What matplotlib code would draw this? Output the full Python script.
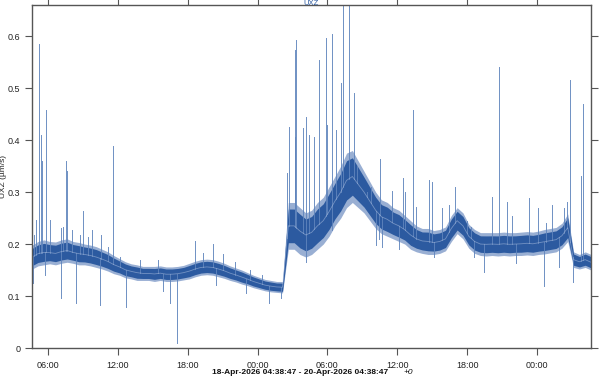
import datetime as dt
import numpy as np
import matplotlib
matplotlib.use("Agg")
import matplotlib.pyplot as plt
import matplotlib.dates as mdates
from matplotlib.ticker import MultipleLocator, FuncFormatter

plt.rcParams["font.family"] = ["Liberation Sans", "DejaVu Sans"]

START = dt.datetime(2026, 4, 18, 4, 38, 47)

# dense band of the trace, read every half hour from the start (hours 0..48)
band_lo = [0.152, 0.158, 0.160, 0.162, 0.160, 0.163, 0.165, 0.163, 0.160, 0.160,
           0.158, 0.155, 0.152, 0.148, 0.143, 0.140, 0.135, 0.133, 0.130, 0.130,
           0.130, 0.128, 0.130, 0.128, 0.128, 0.129, 0.131, 0.133, 0.137, 0.140,
           0.141, 0.140, 0.137, 0.134, 0.130, 0.127, 0.123, 0.120, 0.116, 0.113,
           0.110, 0.108, 0.107, 0.106, 0.190, 0.190, 0.180, 0.175, 0.180, 0.190,
           0.200, 0.215, 0.235, 0.250, 0.270, 0.280, 0.270, 0.260, 0.245, 0.230,
           0.220, 0.215, 0.210, 0.205, 0.200, 0.190, 0.185, 0.182, 0.180, 0.180,
           0.182, 0.187, 0.205, 0.220, 0.210, 0.192, 0.182, 0.178, 0.177, 0.178,
           0.177, 0.178, 0.177, 0.178, 0.178, 0.179, 0.178, 0.180, 0.181, 0.183,
           0.185, 0.192, 0.205, 0.155, 0.152, 0.155, 0.150]
band_hi = [0.198, 0.205, 0.208, 0.205, 0.204, 0.208, 0.210, 0.205, 0.203, 0.200,
           0.198, 0.195, 0.190, 0.185, 0.178, 0.172, 0.166, 0.162, 0.160, 0.157,
           0.157, 0.157, 0.158, 0.156, 0.156, 0.157, 0.159, 0.163, 0.167, 0.170,
           0.171, 0.170, 0.167, 0.163, 0.158, 0.154, 0.150, 0.145, 0.140, 0.136,
           0.132, 0.130, 0.128, 0.128, 0.280, 0.280, 0.270, 0.260, 0.265, 0.280,
           0.290, 0.310, 0.330, 0.350, 0.375, 0.380, 0.360, 0.340, 0.320, 0.300,
           0.285, 0.280, 0.270, 0.265, 0.255, 0.245, 0.235, 0.230, 0.230, 0.226,
           0.228, 0.233, 0.255, 0.270, 0.260, 0.238, 0.228, 0.222, 0.222, 0.222,
           0.222, 0.223, 0.222, 0.222, 0.223, 0.224, 0.223, 0.225, 0.228, 0.230,
           0.232, 0.240, 0.258, 0.185, 0.180, 0.185, 0.180]

# spikes off the band: hours after start, value (µm/s)
spike_up_h = [0.15, 0.33, 0.61, 0.75, 0.87, 1.21, 1.53, 2.44, 2.67, 2.90, 3.03,
              3.39, 4.10, 4.33, 4.81, 5.10, 5.90, 6.47, 6.97, 7.53, 9.24, 10.81,
              13.95, 14.64, 15.5, 16.35, 17.38, 18.67, 19.78,
              21.9, 22.04, 22.53, 22.58, 22.67, 23.25, 23.53, 23.81, 24.24, 24.67,
              25.24, 25.35, 25.72, 26.1, 26.51, 26.73, 27.24, 27.63, 27.93, 28.78,
              29.1, 29.87, 30.9, 31.81, 32.04, 32.67, 32.96, 34.1, 34.33, 35.21,
              35.81, 36.32, 37.35, 37.67, 39.47, 40.12, 40.81, 41.24, 42.69, 43.46,
              44.1, 44.67, 45.67, 45.95, 46.22, 47.18, 47.31]
spike_up_v = [0.217, 0.246, 0.585, 0.41, 0.36, 0.458, 0.246, 0.23, 0.233, 0.36, 0.34,
              0.227, 0.217, 0.264, 0.214, 0.227, 0.217, 0.195, 0.388, 0.176, 0.169, 0.169,
              0.205, 0.182, 0.20, 0.18, 0.165, 0.15, 0.141,
              0.336, 0.426, 0.406, 0.573, 0.592, 0.424, 0.445, 0.41, 0.406, 0.554,
              0.597, 0.43, 0.604, 0.42, 0.51, 0.70, 0.70, 0.49, 0.35, 0.30,
              0.31, 0.363, 0.302, 0.328, 0.30, 0.458, 0.272, 0.323, 0.32, 0.27,
              0.275, 0.31, 0.245, 0.233, 0.29, 0.541, 0.28, 0.254, 0.288, 0.27,
              0.24, 0.275, 0.27, 0.28, 0.515, 0.33, 0.47]
spike_dn_h = [0.07, 1.10, 2.47, 3.73, 5.84, 8.04, 11.2, 11.81, 12.41, 15.81, 18.39,
              20.38, 21.39, 23.53, 25.78, 29.53, 29.81, 30.07, 31.52, 34.52, 37.95,
              38.77, 41.53, 43.98, 45.28, 46.46]
spike_dn_v = [0.125, 0.14, 0.097, 0.087, 0.083, 0.079, 0.11, 0.087, 0.01, 0.121, 0.106,
              0.087, 0.096, 0.165, 0.227, 0.198, 0.21, 0.195, 0.19, 0.176, 0.176,
              0.146, 0.163, 0.12, 0.155, 0.127]

LINE = "#2c5aa0"
LIGHT = "#8ea6cf"
SPIKE = "#5f84bc"

lo = np.array(band_lo)
hi = np.array(band_hi)
hrs = np.arange(len(lo)) * 0.5
mid = (lo + hi) / 2
half = (hi - lo) / 2


def to_dt(h):
    return [START + dt.timedelta(hours=float(x)) for x in h]


t = to_dt(hrs)

fig = plt.figure(figsize=(6.01, 3.81), dpi=100)
ax = fig.add_axes([0.0536, 0.0866, 0.9298, 0.9003])

ax.fill_between(t, lo, hi, color=LIGHT, alpha=0.9, lw=0)
for h, v in zip(spike_up_h + spike_dn_h, spike_up_v + spike_dn_v):
    base = np.interp(h, hrs, mid)
    ts = START + dt.timedelta(hours=h)
    ax.plot([ts, ts], [base, v], color=SPIKE, lw=0.7, alpha=0.9)
ax.fill_between(t, mid - 0.72 * half, mid + 0.72 * half, color=LINE, lw=0)
ax.plot(t, mid, color="#b9c9e6", lw=0.6, alpha=0.5)

ax.set_xlim(START, START + dt.timedelta(hours=48))
ax.set_ylim(0, 0.66)
ax.xaxis.set_major_locator(mdates.HourLocator(byhour=[0, 6, 12, 18]))
ax.xaxis.set_major_formatter(mdates.DateFormatter("%H:%M"))
ax.yaxis.set_major_locator(MultipleLocator(0.1))
ax.yaxis.set_major_formatter(FuncFormatter(lambda v, p: f"{v:g}"))

for s in ax.spines.values():
    s.set_color("#555555")
    s.set_linewidth(1.0)
ax.tick_params(direction="out", length=5, width=0.8, color="#555555",
               labelsize=6.5, labelcolor="#222222", top=True, right=True)
ax.tick_params(axis="x", pad=4)

ax.set_ylabel("UXZ (µm/s)", fontsize=6, color="#222222", va="center")
ax.yaxis.set_label_coords(-0.0505, 0.5)
fig.text(0.50, 0.021, "18-Apr-2026 04:38:47 - 20-Apr-2026 04:38:47",
         ha="center", va="center", fontsize=6, fontweight="bold", color="#111111")
fig.text(0.671, 0.021, "+0", ha="left", va="center", fontsize=6,
         fontstyle="italic", color="#111111")
fig.text(0.5175, 0.992, "UXZ", ha="center", va="center", fontsize=5.5,
         color="#2c5aa0")

fig.savefig("out.png", dpi=100)
